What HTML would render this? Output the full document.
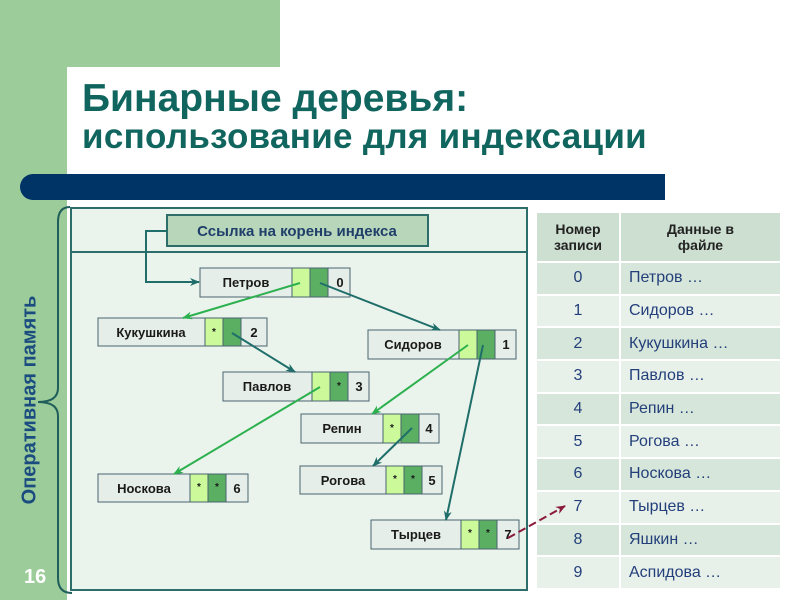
<!DOCTYPE html>
<html><head><meta charset="utf-8"><style>
body{margin:0;width:800px;height:600px;position:relative;overflow:hidden;background:#fff;font-family:"Liberation Sans",sans-serif}
.abs{position:absolute}
</style></head><body>
<div class="abs" style="left:0;top:0;width:280px;height:67px;background:#9ccc9a"></div>
<div class="abs" style="left:0;top:0;width:67px;height:600px;background:#9ccc9a"></div>
<div class="abs" style="left:67px;top:67px;width:60px;height:60px;background:#fff;border-top-left-radius:20px"></div>
<div class="abs" style="left:82px;top:77px;font-size:39px;font-weight:bold;color:#10665e;line-height:44px;white-space:nowrap">Бинарные деревья:</div>
<div class="abs" style="left:82px;top:118px;font-size:35px;font-weight:bold;color:#10665e;line-height:38px;white-space:nowrap;letter-spacing:0.3px">использование для индексации</div>
<div class="abs" style="left:20px;top:174px;width:645px;height:26px;background:#003366;border-radius:13px 0 0 13px"></div>
<div class="abs" style="left:30px;top:400px;width:0;height:0">
<div style="position:absolute;left:0;top:0;transform:translate(-50%,-50%) rotate(-90deg);white-space:nowrap;font-size:20px;font-weight:bold;color:#1a4c80;transform-origin:center">Оперативная память</div></div>
<div class="abs" style="left:24px;top:566px;font-size:20px;font-weight:bold;color:#fff">16</div>
<div class="abs" style="left:70px;top:207px;width:458px;height:384px;background:#eaf4ec;border:2px solid #2e6e6a;box-sizing:border-box"></div>
<div class="abs" style="left:70px;top:251px;width:458px;height:2px;background:#2e6e6a"></div>
<table class="abs" style="left:535px;top:211px;width:247px;border-collapse:collapse;font-size:16px;color:#223f7a">
<tr style="background:#ccdfd0;height:50px;font-size:14px;font-weight:bold;color:#222"><td style="border:2px solid #fff;text-align:center;width:80px">Номер<br>записи</td><td style="border:2px solid #fff;text-align:center">Данные в<br>файле</td></tr>
<tr style="background:#d7e6da;height:32.7px"><td style="border:2px solid #fff;text-align:center">0</td><td style="border:2px solid #fff;padding-left:8px">Петров …</td></tr>
<tr style="background:#e8f0ea;height:32.7px"><td style="border:2px solid #fff;text-align:center">1</td><td style="border:2px solid #fff;padding-left:8px">Сидоров …</td></tr>
<tr style="background:#d7e6da;height:32.7px"><td style="border:2px solid #fff;text-align:center">2</td><td style="border:2px solid #fff;padding-left:8px">Кукушкина …</td></tr>
<tr style="background:#e8f0ea;height:32.7px"><td style="border:2px solid #fff;text-align:center">3</td><td style="border:2px solid #fff;padding-left:8px">Павлов …</td></tr>
<tr style="background:#d7e6da;height:32.7px"><td style="border:2px solid #fff;text-align:center">4</td><td style="border:2px solid #fff;padding-left:8px">Репин …</td></tr>
<tr style="background:#e8f0ea;height:32.7px"><td style="border:2px solid #fff;text-align:center">5</td><td style="border:2px solid #fff;padding-left:8px">Рогова …</td></tr>
<tr style="background:#d7e6da;height:32.7px"><td style="border:2px solid #fff;text-align:center">6</td><td style="border:2px solid #fff;padding-left:8px">Носкова …</td></tr>
<tr style="background:#e8f0ea;height:32.7px"><td style="border:2px solid #fff;text-align:center">7</td><td style="border:2px solid #fff;padding-left:8px">Тырцев …</td></tr>
<tr style="background:#d7e6da;height:32.7px"><td style="border:2px solid #fff;text-align:center">8</td><td style="border:2px solid #fff;padding-left:8px">Яшкин …</td></tr>
<tr style="background:#e8f0ea;height:32.7px"><td style="border:2px solid #fff;text-align:center">9</td><td style="border:2px solid #fff;padding-left:8px">Аспидова …</td></tr>
</table>
<svg class="abs" style="left:0;top:0" width="800" height="600" font-family="Liberation Sans, sans-serif">
<defs>
<marker id="at" markerWidth="10" markerHeight="8" refX="9" refY="4" orient="auto" markerUnits="userSpaceOnUse"><path d="M0,0 L10,4 L0,8 L3,4z" fill="#1f6e6a"/></marker>
<marker id="ag" markerWidth="10" markerHeight="8" refX="9" refY="4" orient="auto" markerUnits="userSpaceOnUse"><path d="M0,0 L10,4 L0,8 L3,4z" fill="#2db04e"/></marker>
<marker id="am" markerWidth="10" markerHeight="8" refX="9" refY="4" orient="auto" markerUnits="userSpaceOnUse"><path d="M0,0 L10,4 L0,8 L3,4z" fill="#8a1a3a"/></marker>
</defs>
<path d="M70,207 Q58,207 58,222 L58,388 Q58,402 38,402 Q58,402 58,416 L58,578 Q58,593 72,593" fill="none" stroke="#1f5e5a" stroke-width="2"/>
<rect x="167" y="215" width="261" height="31" fill="#b7d6ba" stroke="#2e6e6a" stroke-width="2"/>
<text x="297" y="236" text-anchor="middle" font-size="15" font-weight="bold" fill="#1f3f6a">Ссылка на корень индекса</text>
<g font-size="13" font-weight="bold" text-anchor="middle">
<g stroke="#4a6470" stroke-width="1">
<rect x="200" y="268" width="92" height="29" fill="#e6eeea"/><rect x="292" y="268" width="18" height="29" fill="#ccfa9a"/><rect x="310" y="268" width="18" height="29" fill="#5aaf62"/><rect x="328" y="268" width="22" height="29" fill="#e6eeea"/>
<rect x="98" y="318" width="107" height="28" fill="#e6eeea"/><rect x="205" y="318" width="18" height="28" fill="#ccfa9a"/><rect x="223" y="318" width="18" height="28" fill="#5aaf62"/><rect x="241" y="318" width="26" height="28" fill="#e6eeea"/>
<rect x="368" y="330" width="91" height="29" fill="#e6eeea"/><rect x="459" y="330" width="18" height="29" fill="#ccfa9a"/><rect x="477" y="330" width="18" height="29" fill="#5aaf62"/><rect x="495" y="330" width="21" height="29" fill="#e6eeea"/>
<rect x="223" y="372" width="89" height="29" fill="#e6eeea"/><rect x="312" y="372" width="18" height="29" fill="#ccfa9a"/><rect x="330" y="372" width="18" height="29" fill="#5aaf62"/><rect x="348" y="372" width="21" height="29" fill="#e6eeea"/>
<rect x="301" y="414" width="82" height="29" fill="#e6eeea"/><rect x="383" y="414" width="18" height="29" fill="#ccfa9a"/><rect x="401" y="414" width="18" height="29" fill="#5aaf62"/><rect x="419" y="414" width="20" height="29" fill="#e6eeea"/>
<rect x="300" y="466" width="86" height="28" fill="#e6eeea"/><rect x="386" y="466" width="18" height="28" fill="#ccfa9a"/><rect x="404" y="466" width="18" height="28" fill="#5aaf62"/><rect x="422" y="466" width="20" height="28" fill="#e6eeea"/>
<rect x="98" y="474" width="92" height="28" fill="#e6eeea"/><rect x="190" y="474" width="18" height="28" fill="#ccfa9a"/><rect x="208" y="474" width="18" height="28" fill="#5aaf62"/><rect x="226" y="474" width="22" height="28" fill="#e6eeea"/>
<rect x="371" y="520" width="90" height="29" fill="#e6eeea"/><rect x="461" y="520" width="18" height="29" fill="#ccfa9a"/><rect x="479" y="520" width="18" height="29" fill="#5aaf62"/><rect x="497" y="520" width="22" height="29" fill="#e6eeea"/>
</g>
<g fill="#1a1a1a">
<text x="246" y="287">Петров</text><text x="340" y="287">0</text>
<text x="151" y="337">Кукушкина</text><text x="214" y="335" font-size="10">*</text><text x="254" y="337">2</text>
<text x="413" y="349">Сидоров</text><text x="506" y="349">1</text>
<text x="267" y="391">Павлов</text><text x="339" y="389" font-size="10">*</text><text x="359" y="391">3</text>
<text x="342" y="433">Репин</text><text x="392" y="431" font-size="10">*</text><text x="429" y="433">4</text>
<text x="343" y="485">Рогова</text><text x="395" y="482" font-size="10">*</text><text x="413" y="482" font-size="10">*</text><text x="432" y="485">5</text>
<text x="144" y="493">Носкова</text><text x="199" y="490" font-size="10">*</text><text x="217" y="490" font-size="10">*</text><text x="237" y="493">6</text>
<text x="416" y="539">Тырцев</text><text x="470" y="536" font-size="10">*</text><text x="488" y="536" font-size="10">*</text><text x="508" y="539">7</text>
</g>
</g>
<g fill="none" stroke-width="2">
<path d="M167,231 L146,231 L146,282 L199,282" stroke="#1f6e6a" marker-end="url(#at)"/>
<line x1="300" y1="283" x2="183" y2="318" stroke="#2db04e" marker-end="url(#ag)"/>
<line x1="320" y1="283" x2="440" y2="330" stroke="#1f6e6a" marker-end="url(#at)"/>
<line x1="232" y1="333" x2="295" y2="372" stroke="#1f6e6a" marker-end="url(#at)"/>
<line x1="468" y1="345" x2="372" y2="414" stroke="#2db04e" marker-end="url(#ag)"/>
<line x1="483" y1="345" x2="446" y2="520" stroke="#1f6e6a" marker-end="url(#at)"/>
<line x1="320" y1="387" x2="174" y2="474" stroke="#2db04e" marker-end="url(#ag)"/>
<line x1="412" y1="428" x2="373" y2="466" stroke="#1f6e6a" marker-end="url(#at)"/>
<line x1="508" y1="538" x2="565" y2="506" stroke="#8a1a3a" stroke-dasharray="8,4" marker-end="url(#am)"/>
</g>
</svg>
</body></html>
